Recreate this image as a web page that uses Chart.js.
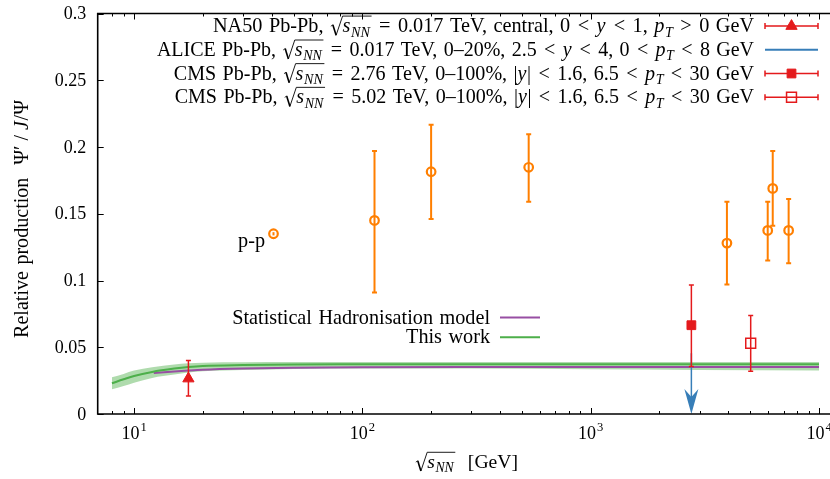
<!DOCTYPE html>
<html><head><meta charset="utf-8">
<script src="https://cdn.jsdelivr.net/npm/chart.js@4.4.1/dist/chart.umd.min.js"></script>
<style>html,body{margin:0;padding:0;background:#fff;}#wrap{width:830px;height:479px;}</style>
</head><body><div id="wrap"><canvas id="c" width="830" height="479"></canvas></div>
<script>
// ---------- data ----------
const ppX  = [40.8, 113, 200, 535, 3950, 5960, 6270, 7360];
const ppY  = [0.135, 0.145, 0.1815, 0.1848, 0.128, 0.1375, 0.169, 0.1375];
const ppLo = [0.1338, 0.091, 0.146, 0.159, 0.097, 0.115, 0.141, 0.113];
const ppHi = [0.1362, 0.197, 0.2167, 0.2095, 0.159, 0.159, 0.197, 0.161];
const na50X = [17.3], na50Y = [0.0265], na50Lo = [0.0135], na50Hi = [0.040];
const cms276X = [2760], cms276Y = [0.0665], cms276Lo = [0.0355], cms276Hi = [0.0967];
const cms502X = [5020], cms502Y = [0.053], cms502Lo = [0.032], cms502Hi = [0.0737];
const aliceX = [2760], aliceUL = [0.0455];
const modelX   = [8, 9, 10, 12, 15, 17.3, 20, 30, 50, 100, 300, 1000, 3000, 10000];
const thisWork = [0.023, 0.026, 0.0285, 0.0315, 0.034, 0.0352, 0.036, 0.0367, 0.0371, 0.0372, 0.0373, 0.0373, 0.0373, 0.0373];
const bandLo   = [0.0185, 0.021, 0.0235, 0.027, 0.0295, 0.031, 0.032, 0.033, 0.0338, 0.034, 0.034, 0.0335, 0.033, 0.0325];
const bandHi   = [0.0275, 0.030, 0.0325, 0.035, 0.037, 0.038, 0.0384, 0.0387, 0.0389, 0.039, 0.039, 0.039, 0.039, 0.039];
const shmX = [12.2, 15, 17.3, 20, 30, 50, 100, 300, 1000, 3000, 10000];
const shmY = [0.0307, 0.0318, 0.0325, 0.0331, 0.034, 0.0346, 0.035, 0.0352, 0.0352, 0.0352, 0.0352];
const xTickVals = [10, 100, 1000, 10000];
const xTickBase = ['10', '10', '10', '10'];
const xTickExp = ['1', '2', '3', '4'];
const yTickVals = [0, 0.05, 0.1, 0.15, 0.2, 0.25, 0.3];
const yTickLabels = ['0', '0.05', '0.1', '0.15', '0.2', '0.25', '0.3'];

// ---------- text ----------
const SQ = {sqrt: [['s', 'i'], ['NN', 's']]};
const legendTop = [
  ['NA50 Pb-Pb, ', SQ, ['=', 'm'], '0.017 TeV, central, 0', ['<', 'm'], ['y', 'i'], ['<', 'm'], '1, ', ['p', 'i'], ['T', 's'], ['>', 'm'], '0 GeV'],
  ['ALICE Pb-Pb, ', SQ, ['=', 'm'], '0.017 TeV, 0\u201320%, 2.5', ['<', 'm'], ['y', 'i'], ['<', 'm'], '4, 0', ['<', 'm'], ['p', 'i'], ['T', 's'], ['<', 'm'], '8 GeV'],
  ['CMS Pb-Pb, ', SQ, ['=', 'm'], '2.76 TeV, 0\u2013100%, |', ['y', 'i'], '|', ['<', 'm'], '1.6, 6.5', ['<', 'm'], ['p', 'i'], ['T', 's'], ['<', 'm'], '30 GeV'],
  ['CMS Pb-Pb, ', SQ, ['=', 'm'], '5.02 TeV, 0\u2013100%, |', ['y', 'i'], '|', ['<', 'm'], '1.6, 6.5', ['<', 'm'], ['p', 'i'], ['T', 's'], ['<', 'm'], '30 GeV']
];
const legendLow = [['Statistical Hadronisation model'], ['This work']];
const yTitle = ['Relative production  ', '\u03A8\u2032', ['/', 'm2'], ['J', 'i'], '/\u03A8'];
const xTitle = [SQ, '  [GeV]'];
const ppLabel = ['p-p'];

const RED = '#e41a1c', ORANGE = '#ff7f00', BLUE = '#377eb8', GREEN = '#4daf4a', PURPLE = '#984ea3';
const BAND = 'rgba(77,175,74,0.45)';
const FONT = '"Liberation Serif", "Times New Roman", serif';
const FS = 18;
const SPACE = 0.32;

function F(k, fs) {
  if (k === 'i') return `italic ${fs}px ${FONT}`;
  if (k === 's') return `italic ${fs * 0.7}px ${FONT}`;
  return `${fs}px ${FONT}`;
}
function strWidth(ctx, s, fs) {
  ctx.font = F('r', fs);
  const words = s.split(' ');
  let w = 0; words.forEach((wd, k) => { if (k > 0) w += SPACE * fs; w += ctx.measureText(wd).width; });
  return w;
}
function segWidth(ctx, seg, fs) {
  if (typeof seg === 'string') return strWidth(ctx, seg, fs);
  if (seg.sqrt) { let w = 0; seg.sqrt.forEach(s => w += segWidth(ctx, s, fs)); return w + fs * 0.62 + fs * 0.08; }
  if (seg[1] === 'm') return fs * 1.3;
  if (seg[1] === 'm2') { ctx.font = F('r', fs); return ctx.measureText(seg[0]).width + fs * 0.5; }
  ctx.font = F(seg[1], fs); return ctx.measureText(seg[0]).width + (seg[1] === 'i' ? fs * 0.03 : 0);
}
function segDraw(ctx, seg, fs, cx, by) {
  if (typeof seg === 'string') {
    ctx.font = F('r', fs);
    const words = seg.split(' ');
    words.forEach((wd, k) => { if (k > 0) cx += SPACE * fs; ctx.fillText(wd, cx, by); cx += ctx.measureText(wd).width; });
    return cx;
  }
  if (seg.sqrt) {
    const rw = fs * 0.62; let inner = 0; seg.sqrt.forEach(s => inner += segWidth(ctx, s, fs));
    const top = by - fs * 0.80;
    ctx.save(); ctx.strokeStyle = ctx.fillStyle; ctx.lineCap = 'butt';
    ctx.beginPath(); ctx.lineWidth = 0.8;
    ctx.moveTo(cx + fs * 0.04, by - fs * 0.30); ctx.lineTo(cx + fs * 0.14, by - fs * 0.37); ctx.stroke();
    ctx.beginPath(); ctx.lineWidth = 1.6;
    ctx.moveTo(cx + fs * 0.14, by - fs * 0.37); ctx.lineTo(cx + fs * 0.30, by + fs * 0.15); ctx.stroke();
    ctx.beginPath(); ctx.lineWidth = 0.9;
    ctx.moveTo(cx + fs * 0.30, by + fs * 0.15); ctx.lineTo(cx + rw, top); ctx.lineTo(cx + rw + inner + fs * 0.08, top); ctx.stroke();
    ctx.restore();
    let x = cx + rw; seg.sqrt.forEach(s => { x = segDraw(ctx, s, fs, x, by); }); return x + fs * 0.08;
  }
  const w = segWidth(ctx, seg, fs);
  if (seg[1] === 'm' || seg[1] === 'm2') {
    ctx.font = F('r', fs); ctx.textAlign = 'center'; ctx.fillText(seg[0], cx + w / 2, by); ctx.textAlign = 'left';
    return cx + w;
  }
  ctx.font = F(seg[1], fs);
  ctx.fillText(seg[0], cx, seg[1] === 's' ? by + fs * 0.22 : by);
  return cx + w;
}
function richWidth(ctx, segs, fs) { let t = 0; segs.forEach(s => t += segWidth(ctx, s, fs)); return t; }
function fitFS(ctx, segs, target) { return FS * target / richWidth(ctx, segs, FS); }
function drawRich(ctx, segs, x, by, fs, align) {
  const total = richWidth(ctx, segs, fs);
  let cx = align === 'right' ? x - total : align === 'center' ? x - total / 2 : x;
  ctx.textAlign = 'left'; ctx.textBaseline = 'alphabetic';
  segs.forEach(s => { cx = segDraw(ctx, s, fs, cx, by); });
  return total;
}

function pts(xs, ys) { return xs.map((x, i) => ({x: x, y: ys[i]})); }

const errPlugin = {
  id: 'errbars',
  beforeDatasetDraw(chart, args) {
    const ds = chart.data.datasets[args.index];
    if (!ds.err) return;
    const ctx = chart.ctx, xs = chart.scales.x, ys = chart.scales.y;
    ctx.save(); ctx.strokeStyle = ds.err.color; ctx.lineWidth = ds.err.w;
    ds.data.forEach((p, i) => {
      const px = xs.getPixelForValue(p.x);
      const y1 = ys.getPixelForValue(ds.err.lo[i]), y2 = ys.getPixelForValue(ds.err.hi[i]);
      const c = Math.abs(y1 - y2) > 8 ? 2.5 : 0;
      ctx.beginPath(); ctx.moveTo(px, y1); ctx.lineTo(px, y2);
      if (c) { ctx.moveTo(px - c, y1); ctx.lineTo(px + c, y1); ctx.moveTo(px - c, y2); ctx.lineTo(px + c, y2); }
      ctx.stroke();
    });
    ctx.restore();
  },
  afterDatasetDraw(chart, args) {
    const ds = chart.data.datasets[args.index];
    if (!ds.arrow) return;
    const ctx = chart.ctx, xs = chart.scales.x, ys = chart.scales.y;
    ctx.save(); ctx.strokeStyle = BLUE; ctx.fillStyle = BLUE; ctx.lineWidth = 1.5;
    ds.data.forEach(p => {
      const px = xs.getPixelForValue(p.x), py = ys.getPixelForValue(p.y), tip = ys.getPixelForValue(0);
      ctx.beginPath(); ctx.moveTo(px, py); ctx.lineTo(px, tip - 10); ctx.stroke();
      ctx.beginPath(); ctx.moveTo(px, tip); ctx.lineTo(px - 7, tip - 25); ctx.lineTo(px, tip - 17);
      ctx.lineTo(px + 7, tip - 25); ctx.closePath(); ctx.fill();
    });
    ctx.restore();
  }
};

const framePlugin = {
  id: 'frame',
  afterDraw(chart) {
    const ctx = chart.ctx, a = chart.chartArea, xs = chart.scales.x, ys = chart.scales.y;
    ctx.save();
    ctx.strokeStyle = '#000'; ctx.fillStyle = '#000'; ctx.lineWidth = 1;
    xs.ticks.forEach(t => {
      const v = t.value; if (v < xs.min || v > xs.max) return;
      const e = Math.floor(Math.log10(v) + 1e-9), sig = v / Math.pow(10, e);
      if (Math.abs(sig - Math.round(sig)) > 1e-6) return;
      const major = Math.abs(sig - 1) < 1e-6;
      const L = major ? 6 : 3, px = Math.round(xs.getPixelForValue(v)) + 0.5;
      ctx.beginPath(); ctx.moveTo(px, a.bottom); ctx.lineTo(px, a.bottom - L);
      ctx.moveTo(px, a.top); ctx.lineTo(px, a.top + L); ctx.stroke();
    });
    yTickVals.forEach(v => {
      const py = Math.round(ys.getPixelForValue(v)) + 0.5;
      ctx.beginPath(); ctx.moveTo(a.left, py); ctx.lineTo(a.left + 6, py); ctx.stroke();
    });
    ctx.lineWidth = 1.6;
    ctx.beginPath();
    ctx.moveTo(a.right, a.top); ctx.lineTo(a.left, a.top); ctx.lineTo(a.left, a.bottom); ctx.lineTo(a.right, a.bottom);
    ctx.stroke();
    // tick labels
    ctx.font = F('r', FS); ctx.textBaseline = 'alphabetic';
    ctx.textAlign = 'right';
    yTickVals.forEach((v, i) => { ctx.fillText(yTickLabels[i], a.left - 11.5, ys.getPixelForValue(v) + 5.5); });
    ctx.textAlign = 'left';
    xTickVals.forEach((v, i) => {
      ctx.font = F('r', FS); const wb = ctx.measureText(xTickBase[i]).width;
      ctx.font = F('r', FS * 0.7); const we = ctx.measureText(xTickExp[i]).width;
      const x0 = xs.getPixelForValue(v) - (wb + we + 1) / 2;
      ctx.font = F('r', FS); ctx.fillText(xTickBase[i], x0, 438.5);
      ctx.font = F('r', FS * 0.7); ctx.fillText(xTickExp[i], x0 + wb + 1, 431);
    });
    // axis titles
    drawRich(ctx, xTitle, 466.5, 468, fitFS(ctx, xTitle, 103), 'center');
    ctx.save(); ctx.translate(28, 219); ctx.rotate(-Math.PI / 2);
    drawRich(ctx, yTitle, 0, 0, fitFS(ctx, yTitle, 238), 'center'); ctx.restore();
    drawRich(ctx, ppLabel, 265, 246.5, fitFS(ctx, ppLabel, 27), 'right');
    // top legend
    const leftEdges = [212.7, 156.7, 173.5, 174.4];
    const sample = [
      {c: RED, caps: true, style: 'triangle', r: 6.5, fill: true},
      {c: BLUE, caps: false},
      {c: RED, caps: true, style: 'rect', r: 6.2, fill: true},
      {c: RED, caps: true, style: 'rect', r: 7, fill: false}
    ];
    legendTop.forEach((segs, i) => {
      const by = 32.3 + i * 23.7, yc = by - 6.2;
      ctx.fillStyle = '#000';
      drawRich(ctx, segs, 754, by, fitFS(ctx, segs, 754 - leftEdges[i]), 'right');
      const s = sample[i];
      ctx.save(); ctx.strokeStyle = s.c; ctx.lineWidth = s.caps ? 1.5 : 2;
      ctx.beginPath(); ctx.moveTo(765, yc); ctx.lineTo(818, yc);
      if (s.caps) { ctx.moveTo(765, yc - 3); ctx.lineTo(765, yc + 3); ctx.moveTo(818, yc - 3); ctx.lineTo(818, yc + 3); }
      ctx.stroke();
      if (s.style) {
        ctx.fillStyle = s.fill ? s.c : 'rgba(0,0,0,0)'; ctx.strokeStyle = s.c; ctx.lineWidth = s.fill ? 1 : 1.5;
        Chart.helpers.drawPoint(ctx, {pointStyle: s.style, radius: s.r, rotation: 0, borderWidth: ctx.lineWidth}, 791.5, yc);
      }
      ctx.restore();
    });
    // lower legend
    const lowC = [PURPLE, GREEN];
    const lowFS = fitFS(ctx, legendLow[0], 258);
    legendLow.forEach((segs, i) => {
      const by = 323.5 + i * 19.8, yc = by - 6;
      ctx.fillStyle = '#000';
      drawRich(ctx, segs, 490, by, lowFS, 'right');
      ctx.save(); ctx.strokeStyle = lowC[i]; ctx.lineWidth = 2;
      ctx.beginPath(); ctx.moveTo(500, yc); ctx.lineTo(540, yc); ctx.stroke(); ctx.restore();
    });
    ctx.restore();
  }
};

const lineCommon = {type: 'line', showLine: true, pointRadius: 0, pointHoverRadius: 0, cubicInterpolationMode: 'monotone', fill: false};

new Chart(document.getElementById('c'), {
  type: 'scatter',
  data: {datasets: [
    {label: 'NA50', data: pts(na50X, na50Y), pointStyle: 'triangle', pointRadius: 6.5, backgroundColor: RED, borderColor: RED, borderWidth: 1, order: 0,
      err: {lo: na50Lo, hi: na50Hi, color: RED, w: 1.5}},
    {label: 'CMS 2.76', data: pts(cms276X, cms276Y), pointStyle: 'rect', pointRadius: 6.2, backgroundColor: RED, borderColor: RED, borderWidth: 1, order: 0,
      err: {lo: cms276Lo, hi: cms276Hi, color: RED, w: 1.5}},
    {label: 'CMS 5.02', data: pts(cms502X, cms502Y), pointStyle: 'rect', pointRadius: 7, backgroundColor: 'rgba(0,0,0,0)', borderColor: RED, borderWidth: 1.5, order: 0,
      err: {lo: cms502Lo, hi: cms502Hi, color: RED, w: 1.5}},
    {label: 'p-p', data: pts(ppX, ppY), pointStyle: 'circle', pointRadius: 4.3, backgroundColor: 'rgba(0,0,0,0)', borderColor: ORANGE, borderWidth: 2.2, order: 0,
      err: {lo: ppLo, hi: ppHi, color: ORANGE, w: 2}},
    {label: 'ALICE', data: pts(aliceX, aliceUL), pointRadius: 0, arrow: true, order: 1},
    Object.assign({label: 'This work', data: pts(modelX, thisWork), borderColor: GREEN, borderWidth: 2, order: 2}, lineCommon),
    Object.assign({label: 'Statistical Hadronisation model', data: pts(shmX, shmY), borderColor: PURPLE, borderWidth: 2, order: 3}, lineCommon),
    Object.assign({label: 'band low', data: pts(modelX, bandLo), borderColor: 'rgba(0,0,0,0)', borderWidth: 1, order: 4}, lineCommon),
    Object.assign({}, lineCommon, {label: 'band high', data: pts(modelX, bandHi), borderColor: 'rgba(0,0,0,0)', borderWidth: 1, order: 4,
      fill: {target: 7}, backgroundColor: BAND})
  ]},
  options: {
    responsive: false, animation: false, devicePixelRatio: 1,
    layout: {autoPadding: false, padding: {top: 13.5, right: 0, left: 0, bottom: 0}},
    plugins: {legend: {display: false}, tooltip: {enabled: false}, filler: {propagate: false}},
    events: [],
    scales: {
      x: {type: 'logarithmic', min: 6.93, max: 11170, bounds: 'data', position: 'bottom',
        grid: {display: false}, border: {display: false}, ticks: {display: false},
        afterFit: s => { s.height = 65; }},
      y: {type: 'linear', min: 0, max: 0.3, position: 'left',
        grid: {display: false}, border: {display: false}, ticks: {display: false, stepSize: 0.05},
        afterFit: s => { s.width = 97.7; }}
    }
  },
  plugins: [errPlugin, framePlugin]
});
</script></body></html>
